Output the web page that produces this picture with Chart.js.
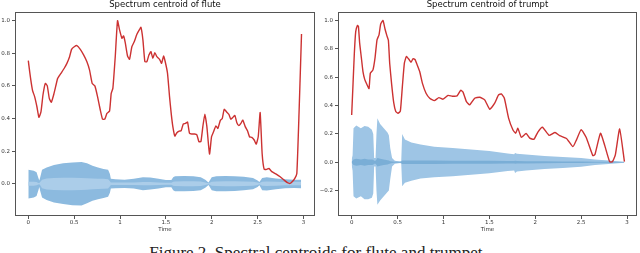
<!DOCTYPE html>
<html>
<head>
<meta charset="utf-8">
<script src="https://cdn.jsdelivr.net/npm/chart.js@4.4.1/dist/chart.umd.min.js"></script>
<style>
  body { margin: 0; background: #fff; width: 640px; height: 253px; overflow: hidden; position: relative; }
  .panel { position: absolute; top: 0; }
  #caption {
    position: absolute; top: 244px; left: -2px; width: 640px; text-align: center;
    font-family: 'Liberation Serif', 'DejaVu Serif', serif; font-size: 17px; line-height: 17px; color: #222;
  }
</style>
</head>
<body>
<div class="panel" style="left:0"><canvas id="fluteChart" width="320" height="236"></canvas></div>
<div class="panel" style="left:320px"><canvas id="trumpetChart" width="320" height="236"></canvas></div>
<div id="caption">Figure 2. Spectral centroids for flute and trumpet.</div>
<script>
// Axis ticks
const xTicks = [0, 0.5, 1, 1.5, 2, 2.5, 3];
const xTickLabels = ['0', '0.5', '1', '1.5', '2', '2.5', '3'];
const fluteYTicks = [0, 0.2, 0.4, 0.6, 0.8, 1.0];
const trumpetYTicks = [-0.2, 0, 0.2, 0.4, 0.6, 0.8, 1.0];

// Flute: normalised spectral centroid
const fluteTime = [0,0.015,0.033,0.047,0.069,0.094,0.116,0.138,0.16,0.185,0.207,0.229,0.251,0.276,0.298,0.32,0.356,0.392,0.421,0.45,0.472,0.501,0.53,0.567,0.603,0.639,0.668,0.697,0.726,0.755,0.785,0.81,0.835,0.857,0.886,0.904,0.922,0.948,0.973,0.995,1.021,1.039,1.057,1.082,1.104,1.129,1.155,1.184,1.21,1.228,1.25,1.271,1.293,1.315,1.337,1.358,1.38,1.402,1.431,1.453,1.475,1.493,1.518,1.54,1.558,1.576,1.598,1.62,1.645,1.667,1.689,1.714,1.736,1.758,1.783,1.812,1.838,1.86,1.882,1.903,1.925,1.947,1.976,1.998,2.02,2.045,2.067,2.093,2.115,2.136,2.165,2.187,2.209,2.231,2.252,2.274,2.296,2.318,2.339,2.365,2.39,2.412,2.437,2.463,2.485,2.507,2.528,2.55,2.572,2.601,2.623,2.655,2.703,2.746,2.79,2.826,2.855,2.877,2.906,2.928,2.953,2.979];
const fluteCentroid = [0.755,0.687,0.615,0.57,0.534,0.472,0.407,0.44,0.544,0.615,0.60,0.523,0.50,0.544,0.595,0.646,0.677,0.708,0.738,0.779,0.824,0.84,0.847,0.824,0.79,0.748,0.697,0.615,0.60,0.534,0.452,0.395,0.397,0.431,0.446,0.554,0.585,0.779,1.0,0.943,0.892,0.906,0.865,0.783,0.763,0.84,0.871,0.916,0.943,0.959,0.881,0.748,0.748,0.789,0.81,0.769,0.804,0.779,0.763,0.738,0.783,0.748,0.677,0.534,0.431,0.35,0.292,0.313,0.323,0.325,0.366,0.37,0.378,0.309,0.305,0.305,0.30,0.258,0.258,0.35,0.427,0.35,0.182,0.288,0.319,0.354,0.339,0.387,0.40,0.456,0.438,0.425,0.395,0.407,0.419,0.374,0.356,0.37,0.39,0.35,0.325,0.288,0.284,0.268,0.243,0.288,0.436,0.182,0.088,0.088,0.094,0.074,0.059,0.043,0.022,0.006,0.002,0.012,0.033,0.063,0.452,0.918];

// Flute: waveform envelope (outer peak and inner band)
const fluteWaveTime = [0,0.03,0.06,0.09,0.11,0.12,0.13,0.15,0.2,0.28,0.38,0.48,0.58,0.64,0.7,0.76,0.82,0.87,0.89,0.9,0.95,1.05,1.15,1.25,1.33,1.42,1.5,1.56,1.58,1.6,1.7,1.8,1.88,1.93,1.965,2.0,2.05,2.15,2.25,2.35,2.45,2.5,2.52,2.55,2.6,2.7,2.8,2.9,2.975];
const fluteWaveUpper = [0.085,0.082,0.08,0.07,0.035,0.02,0.04,0.085,0.10,0.115,0.125,0.13,0.133,0.125,0.11,0.10,0.09,0.085,0.06,0.03,0.028,0.025,0.03,0.04,0.038,0.03,0.022,0.022,0.04,0.046,0.048,0.046,0.04,0.025,0.008,0.04,0.046,0.048,0.046,0.042,0.035,0.02,0.01,0.035,0.04,0.032,0.028,0.024,0.024];
const fluteWaveLower = [-0.09,-0.088,-0.085,-0.075,-0.04,-0.02,-0.045,-0.085,-0.10,-0.115,-0.125,-0.132,-0.133,-0.12,-0.105,-0.095,-0.088,-0.08,-0.055,-0.03,-0.028,-0.026,-0.03,-0.04,-0.036,-0.03,-0.022,-0.022,-0.04,-0.046,-0.046,-0.044,-0.04,-0.025,-0.008,-0.04,-0.046,-0.046,-0.044,-0.04,-0.034,-0.02,-0.01,-0.04,-0.042,-0.034,-0.028,-0.026,-0.028];
const fluteInnerUpper = [0.012,0.012,0.012,0.01,0.005,0.004,0.01,0.025,0.032,0.035,0.036,0.036,0.035,0.034,0.032,0.03,0.03,0.028,0.015,0.008,0.008,0.008,0.008,0.01,0.01,0.008,0.006,0.006,0.012,0.014,0.015,0.015,0.014,0.008,0.003,0.012,0.014,0.015,0.015,0.014,0.012,0.008,0.004,0.012,0.014,0.012,0.01,0.01,0.01];
const fluteInnerLower = [-0.012,-0.012,-0.012,-0.01,-0.005,-0.004,-0.01,-0.028,-0.036,-0.038,-0.04,-0.04,-0.039,-0.037,-0.034,-0.032,-0.031,-0.029,-0.015,-0.008,-0.008,-0.008,-0.008,-0.01,-0.01,-0.008,-0.006,-0.006,-0.012,-0.014,-0.015,-0.015,-0.014,-0.008,-0.003,-0.012,-0.014,-0.015,-0.015,-0.014,-0.012,-0.008,-0.004,-0.012,-0.014,-0.012,-0.01,-0.01,-0.01];

// Trumpet: normalised spectral centroid
const trumpetTime = [0,0.015,0.029,0.044,0.062,0.073,0.087,0.105,0.123,0.142,0.165,0.189,0.203,0.232,0.254,0.276,0.298,0.316,0.341,0.363,0.385,0.4,0.414,0.436,0.458,0.48,0.505,0.53,0.552,0.574,0.596,0.625,0.647,0.668,0.69,0.712,0.741,0.77,0.81,0.85,0.9,0.95,0.995,1.05,1.097,1.148,1.188,1.213,1.25,1.285,1.34,1.394,1.449,1.504,1.558,1.6,1.63,1.663,1.71,1.757,1.787,1.81,1.848,1.9,1.94,1.985,2.03,2.078,2.15,2.215,2.265,2.34,2.41,2.45,2.5,2.555,2.627,2.65,2.71,2.755,2.81,2.84,2.872,2.919,2.971];
const trumpetCentroid = [0.334,0.558,0.769,0.922,0.965,0.96,0.84,0.74,0.64,0.585,0.55,0.52,0.628,0.652,0.734,0.864,0.899,0.975,1.0,0.94,0.89,0.86,0.699,0.546,0.42,0.358,0.346,0.36,0.534,0.699,0.746,0.725,0.706,0.73,0.725,0.69,0.64,0.558,0.487,0.452,0.435,0.456,0.445,0.472,0.466,0.468,0.508,0.495,0.428,0.405,0.452,0.459,0.44,0.374,0.417,0.475,0.482,0.452,0.31,0.228,0.205,0.24,0.176,0.203,0.17,0.162,0.215,0.247,0.19,0.21,0.188,0.168,0.11,0.16,0.23,0.175,0.047,0.055,0.205,0.122,0.004,0.004,0.052,0.235,0.004];

// Trumpet: waveform envelope
const trumpetWaveTime = [0,0.01,0.02,0.05,0.1,0.14,0.18,0.22,0.235,0.245,0.26,0.27,0.28,0.31,0.35,0.39,0.405,0.42,0.44,0.47,0.53,0.54,0.55,0.58,0.65,0.75,0.9,1.1,1.3,1.5,1.7,1.77,1.78,1.8,1.9,2.1,2.3,2.5,2.65,2.8,2.97];
const trumpetWaveUpper = [0.02,0.05,0.24,0.26,0.24,0.255,0.25,0.23,0.2,0.03,0.03,0.2,0.31,0.27,0.24,0.21,0.19,0.1,0.03,0.01,0.005,0.01,0.2,0.16,0.14,0.125,0.11,0.1,0.09,0.08,0.062,0.056,0.066,0.06,0.055,0.045,0.038,0.03,0.02,0.012,0.003];
const trumpetWaveLower = [-0.02,-0.06,-0.24,-0.255,-0.24,-0.26,-0.26,-0.25,-0.22,-0.03,-0.03,-0.2,-0.3,-0.27,-0.24,-0.21,-0.2,-0.12,-0.03,-0.01,-0.005,-0.01,-0.17,-0.145,-0.13,-0.115,-0.105,-0.098,-0.088,-0.078,-0.062,-0.058,-0.075,-0.065,-0.058,-0.047,-0.04,-0.032,-0.02,-0.012,-0.003];
const trumpetInnerUpper = [0.005,0.01,0.02,0.025,0.02,0.025,0.02,0.02,0.018,0.01,0.01,0.02,0.03,0.025,0.02,0.015,0.012,0.008,0.005,0.004,0.003,0.005,0.012,0.012,0.012,0.012,0.012,0.011,0.01,0.01,0.009,0.009,0.01,0.009,0.008,0.007,0.006,0.005,0.004,0.003,0.002];
const trumpetInnerLower = [-0.005,-0.01,-0.02,-0.025,-0.02,-0.025,-0.02,-0.02,-0.018,-0.01,-0.01,-0.02,-0.03,-0.025,-0.02,-0.015,-0.012,-0.008,-0.005,-0.004,-0.003,-0.005,-0.012,-0.012,-0.012,-0.012,-0.012,-0.011,-0.01,-0.01,-0.009,-0.009,-0.01,-0.009,-0.008,-0.007,-0.006,-0.005,-0.004,-0.003,-0.002];

const tickFont = { family: 'DejaVu Sans', size: 5.5 };

// Zip two arrays into {x, y} points
function toPoints(xs, ys) {
    return xs.map((x, i) => ({ x: x, y: ys[i] }));
}

// Draws the box around the plotting area (matplotlib style spines)
const framePlugin = {
    id: 'frame',
    afterDraw(chart) {
        const a = chart.chartArea;
        const ctx = chart.ctx;
        ctx.save();
        ctx.strokeStyle = '#555';
        ctx.lineWidth = 1;
        ctx.strokeRect(Math.round(a.left) + 0.5, Math.round(a.top) + 0.5,
            Math.round(a.right - a.left) - 1, Math.round(a.bottom - a.top) - 1);
        ctx.restore();
    }
};

function makeChart(id, cfg) {
    const ctx = document.getElementById(id);
    return new Chart(ctx, {
        type: 'line',
        data: {
            datasets: [
                {   // centroid on top
                    data: toPoints(cfg.time, cfg.centroid),
                    borderColor: '#cc3232',
                    borderWidth: 1.4,
                    pointRadius: 0,
                    tension: 0.15,
                    fill: false,
                    order: 0
                },
                {   // inner band upper
                    data: toPoints(cfg.waveTime, cfg.innerUpper),
                    borderWidth: 0,
                    borderColor: 'rgba(0,0,0,0)',
                    backgroundColor: cfg.innerColor,
                    pointRadius: 0,
                    fill: '+1',
                    order: 1
                },
                {   // inner band lower
                    data: toPoints(cfg.waveTime, cfg.innerLower),
                    borderWidth: 0,
                    borderColor: 'rgba(0,0,0,0)',
                    pointRadius: 0,
                    fill: false,
                    order: 1
                },
                {   // outer envelope upper
                    data: toPoints(cfg.waveTime, cfg.waveUpper),
                    borderWidth: 0,
                    borderColor: 'rgba(0,0,0,0)',
                    backgroundColor: cfg.outerColor,
                    pointRadius: 0,
                    fill: '+1',
                    order: 2
                },
                {   // outer envelope lower
                    data: toPoints(cfg.waveTime, cfg.waveLower),
                    borderWidth: 0,
                    borderColor: 'rgba(0,0,0,0)',
                    pointRadius: 0,
                    fill: false,
                    order: 2
                }
            ]
        },
        options: {
            responsive: false,
            animation: false,
            layout: { padding: { left: 0, right: cfg.padRight, top: 0, bottom: 0 } },
            plugins: {
                legend: { display: false },
                tooltip: { enabled: false },
                title: {
                    display: true,
                    text: cfg.title,
                    fullSize: false,
                    color: '#111',
                    font: { family: 'DejaVu Sans', size: 8.5, weight: 'normal' },
                    padding: { top: 0, bottom: 1.8 }
                }
            },
            scales: {
                x: {
                    type: 'linear',
                    min: cfg.xMin,
                    max: cfg.xMax,
                    afterBuildTicks: (s) => { s.ticks = xTicks.map(v => ({ value: v })); },
                    afterFit: (s) => { s.height = 20; },
                    ticks: {
                        font: tickFont,
                        color: '#333',
                        padding: 0,
                        maxRotation: 0,
                        callback: (v) => xTickLabels[xTicks.indexOf(v)]
                    },
                    grid: { drawOnChartArea: false, drawTicks: true, tickLength: 3, color: '#555' },
                    border: { display: false },
                    title: {
                        display: true,
                        text: 'Time',
                        color: '#333',
                        font: tickFont,
                        padding: { top: 0, bottom: 3 }
                    }
                },
                y: {
                    type: 'linear',
                    min: cfg.yMin,
                    max: cfg.yMax,
                    afterBuildTicks: (s) => { s.ticks = cfg.yTicks.map(v => ({ value: v })); },
                    afterFit: (s) => { s.width = cfg.yAxisWidth; },
                    ticks: {
                        font: tickFont,
                        color: '#333',
                        padding: 2,
                        callback: (v) => v.toFixed(1).replace('-', '\u2212')
                    },
                    grid: { drawOnChartArea: false, drawTicks: true, tickLength: 3, color: '#555' },
                    border: { display: false }
                }
            }
        },
        plugins: [framePlugin]
    });
}

makeChart('fluteChart', {
    title: 'Spectrum centroid of flute',
    time: fluteTime, centroid: fluteCentroid,
    waveTime: fluteWaveTime, waveUpper: fluteWaveUpper, waveLower: fluteWaveLower,
    innerUpper: fluteInnerUpper, innerLower: fluteInnerLower,
    outerColor: '#8cbadf', innerColor: '#abcde9',
    xMin: -0.145, xMax: 3.126, yMin: -0.198, yMax: 1.053,
    yTicks: fluteYTicks, yAxisWidth: 15, padRight: 5
});

makeChart('trumpetChart', {
    title: 'Spectrum centroid of trumpt',
    time: trumpetTime, centroid: trumpetCentroid,
    waveTime: trumpetWaveTime, waveUpper: trumpetWaveUpper, waveLower: trumpetWaveLower,
    innerUpper: trumpetInnerUpper, innerLower: trumpetInnerLower,
    outerColor: '#9ec5e5', innerColor: '#7aaed6',
    xMin: -0.149, xMax: 3.108, yMin: -0.379, yMax: 1.06,
    yTicks: trumpetYTicks, yAxisWidth: 18, padRight: 3
});
</script>
</body>
</html>
